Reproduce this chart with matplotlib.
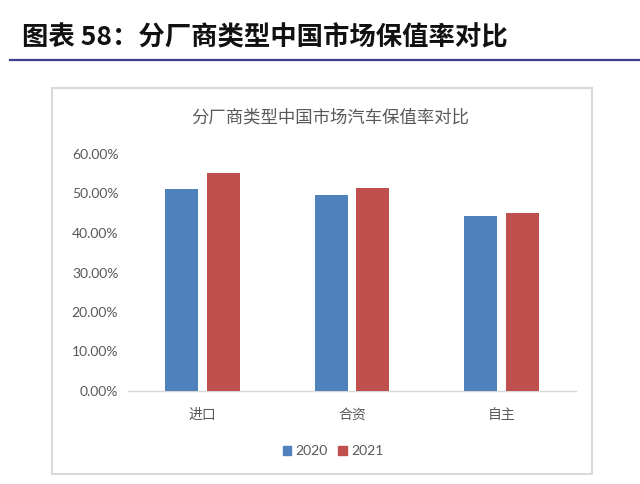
import matplotlib
matplotlib.use("Agg")
import matplotlib.pyplot as plt
import matplotlib.patches as mpatches
import numpy as np
from matplotlib.ticker import FuncFormatter

plt.rcParams["font.family"] = ["Noto Sans CJK SC", "DejaVu Sans"]
plt.rcParams["axes.unicode_minus"] = False

# data
categories = ["进口", "合资", "自主"]
years = ["2020", "2021"]
rate_2020 = [0.511, 0.495, 0.443]
rate_2021 = [0.551, 0.515, 0.450]
y_ticks = [0.0, 0.1, 0.2, 0.3, 0.4, 0.5, 0.6]

BLUE = "#4F81BD"
RED = "#C0504D"
GRAY_TXT = "#595959"

fig = plt.figure(figsize=(6.4, 4.84), dpi=100)
fig.patch.set_facecolor("white")

# report header + rule
fig.text(22 / 640, 1 - 38 / 484, "图表 58：分厂商类型中国市场保值率对比",
         fontsize=19, fontweight="bold", color="#111111",
         ha="left", va="center")
fig.add_artist(plt.Line2D([10 / 640, 1.0], [1 - 60 / 484, 1 - 60 / 484],
                          color="#3B3F8F", linewidth=1.6))

# chart frame (excel style)
fig.add_artist(mpatches.Rectangle((52 / 640, 1 - 474 / 484), 540 / 640, 386 / 484,
                                  fill=False, edgecolor="#D9D9D9", linewidth=1.5))

fig.text(330 / 640, 1 - 118 / 484, "分厂商类型中国市场汽车保值率对比",
         fontsize=12.5, color=GRAY_TXT, fontweight="light",
         ha="center", va="center")

ax = fig.add_axes([128 / 640, 1 - 391 / 484, 448 / 640, 237 / 484])
x = np.arange(len(categories))
w = 0.22
ax.bar(x - 0.14, rate_2020, width=w, color=BLUE, label=years[0], zorder=3)
ax.bar(x + 0.14, rate_2021, width=w, color=RED, label=years[1], zorder=3)

ax.set_xlim(-0.5, 2.5)
ax.set_ylim(0, 0.6)
ax.set_yticks(y_ticks)
ax.yaxis.set_major_formatter(FuncFormatter(lambda v, _: f"{v * 100:.2f}%"))
ax.set_xticks(x)
ax.set_xticklabels(categories)
for lab in ax.get_yticklabels():
    lab.set_family(["Lato", "DejaVu Sans"])
    lab.set_fontsize(10)
    lab.set_color(GRAY_TXT)
for lab in ax.get_xticklabels():
    lab.set_fontsize(10)
    lab.set_color(GRAY_TXT)
ax.tick_params(axis="both", length=0)
ax.tick_params(axis="y", pad=7)
ax.tick_params(axis="x", pad=12)

for side in ["top", "right", "left"]:
    ax.spines[side].set_visible(False)
ax.spines["bottom"].set_color("#D9D9D9")
ax.spines["bottom"].set_linewidth(1.0)

handles = [mpatches.Patch(color=BLUE, label=years[0]),
           mpatches.Patch(color=RED, label=years[1])]
leg = fig.legend(handles=handles, loc="center", ncol=2,
                 bbox_to_anchor=(333 / 640, 1 - 451 / 484),
                 frameon=False, handlelength=0.6, handleheight=0.6,
                 handletextpad=0.3, columnspacing=0.8,
                 prop={"family": ["Lato", "DejaVu Sans"], "size": 10})
for t in leg.get_texts():
    t.set_color(GRAY_TXT)

fig.savefig("out.png", dpi=100, facecolor="white")
